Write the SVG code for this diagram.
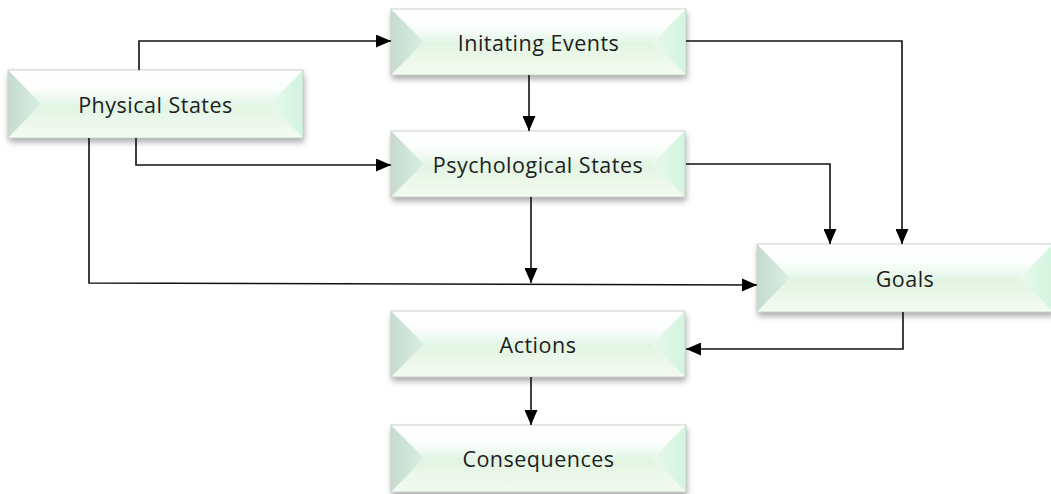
<svg xmlns="http://www.w3.org/2000/svg" width="1051" height="494" viewBox="0 0 1051 494">
<defs>
<linearGradient id="gTop" x1="0" y1="0" x2="0" y2="1">
<stop offset="0" stop-color="#ffffff"/><stop offset="0.55" stop-color="#fbfefc"/><stop offset="1" stop-color="#e4f6e9"/>
</linearGradient>
<linearGradient id="gBot" x1="0" y1="0" x2="0" y2="1">
<stop offset="0" stop-color="#e2f4e2"/><stop offset="1" stop-color="#f4fbf1"/>
</linearGradient>
<linearGradient id="gLeft" x1="0" y1="0" x2="1" y2="0">
<stop offset="0" stop-color="#c6dbcf"/><stop offset="1" stop-color="#d8efe1"/>
</linearGradient>
<linearGradient id="gRight" x1="0" y1="0" x2="1" y2="0">
<stop offset="0" stop-color="#e8f8ec"/><stop offset="1" stop-color="#d2f5de"/>
</linearGradient>
<filter id="sh" x="-10%" y="-20%" width="120%" height="150%">
<feDropShadow dx="1" dy="4" stdDeviation="3" flood-color="#000" flood-opacity="0.35"/>
</filter>
<marker id="ah" viewBox="0 0 15 13" markerWidth="15" markerHeight="13" refX="15" refY="6.5" orient="auto" markerUnits="userSpaceOnUse">
<path d="M0,0 L15,6.5 L0,13 z" fill="#000"/>
</marker>
</defs>
<style>
.box{filter:url(#sh)}
.frame{fill:none;stroke:#c9d3ce;stroke-width:1}
.lbl{font-family:"Open Sans","Liberation Sans",sans-serif;font-size:21.5px;letter-spacing:0.5px;fill:#1e1e1e;text-anchor:middle;dominant-baseline:central}
.cn path{fill:none;stroke:#111;stroke-width:1.6}
</style>

<g id="physical-states">
<g class="box"><rect x="8" y="70" width="295" height="68" fill="#fff"/></g>
<polygon points="8,70 303,70 270,104 41,104" fill="url(#gTop)"/>
<polygon points="41,104 270,104 303,138 8,138" fill="url(#gBot)"/>
<polygon points="8,70 41,104 8,138" fill="url(#gLeft)"/>
<polygon points="303,70 270,104 303,138" fill="url(#gRight)"/>
<rect class="frame" x="8" y="70" width="295" height="68"/>
<text class="lbl" x="155.5" y="104">Physical States</text>
</g>

<g id="initiating-events">
<g class="box"><rect x="391" y="9" width="295" height="66" fill="#fff"/></g>
<polygon points="391,9 686,9 653,42 424,42" fill="url(#gTop)"/>
<polygon points="424,42 653,42 686,75 391,75" fill="url(#gBot)"/>
<polygon points="391,9 424,42 391,75" fill="url(#gLeft)"/>
<polygon points="686,9 653,42 686,75" fill="url(#gRight)"/>
<rect class="frame" x="391" y="9" width="295" height="66"/>
<text class="lbl" x="538.5" y="42">Initating Events</text>
</g>

<g id="psychological-states">
<g class="box"><rect x="391" y="131" width="294" height="66" fill="#fff"/></g>
<polygon points="391,131 685,131 652,164 424,164" fill="url(#gTop)"/>
<polygon points="424,164 652,164 685,197 391,197" fill="url(#gBot)"/>
<polygon points="391,131 424,164 391,197" fill="url(#gLeft)"/>
<polygon points="685,131 652,164 685,197" fill="url(#gRight)"/>
<rect class="frame" x="391" y="131" width="294" height="66"/>
<text class="lbl" x="538" y="164">Psychological States</text>
</g>

<g id="goals">
<g class="box"><rect x="757" y="244" width="296" height="68" fill="#fff"/></g>
<polygon points="757,244 1053,244 1020,278 790,278" fill="url(#gTop)"/>
<polygon points="790,278 1020,278 1053,312 757,312" fill="url(#gBot)"/>
<polygon points="757,244 790,278 757,312" fill="url(#gLeft)"/>
<polygon points="1053,244 1020,278 1053,312" fill="url(#gRight)"/>
<rect class="frame" x="757" y="244" width="296" height="68"/>
<text class="lbl" x="905" y="278">Goals</text>
</g>

<g id="actions">
<g class="box"><rect x="391" y="311" width="294" height="66" fill="#fff"/></g>
<polygon points="391,311 685,311 652,344 424,344" fill="url(#gTop)"/>
<polygon points="424,344 652,344 685,377 391,377" fill="url(#gBot)"/>
<polygon points="391,311 424,344 391,377" fill="url(#gLeft)"/>
<polygon points="685,311 652,344 685,377" fill="url(#gRight)"/>
<rect class="frame" x="391" y="311" width="294" height="66"/>
<text class="lbl" x="538" y="344">Actions</text>
</g>

<g id="consequences">
<g class="box"><rect x="391" y="425" width="295" height="67" fill="#fff"/></g>
<polygon points="391,425 686,425 653,458 424,458" fill="url(#gTop)"/>
<polygon points="424,458 653,458 686,492 391,492" fill="url(#gBot)"/>
<polygon points="391,425 424,458 391,492" fill="url(#gLeft)"/>
<polygon points="686,425 653,458 686,492" fill="url(#gRight)"/>
<rect class="frame" x="391" y="425" width="295" height="67"/>
<text class="lbl" x="538.5" y="458">Consequences</text>
</g>

<g id="connectors" class="cn">
<path d="M139,70 V41 H391" marker-end="url(#ah)"/>
<path d="M136,138 V165 H391" marker-end="url(#ah)"/>
<path d="M89,138 V283 L757,285" marker-end="url(#ah)"/>
<path d="M529,75 V131" marker-end="url(#ah)"/>
<path d="M531,197 V283" marker-end="url(#ah)"/>
<path d="M686,41 H902 V244" marker-end="url(#ah)"/>
<path d="M686,164 H830 V244" marker-end="url(#ah)"/>
<path d="M903,312 V349 H686" marker-end="url(#ah)"/>
<path d="M531,377 V425" marker-end="url(#ah)"/>
</g>
</svg>
